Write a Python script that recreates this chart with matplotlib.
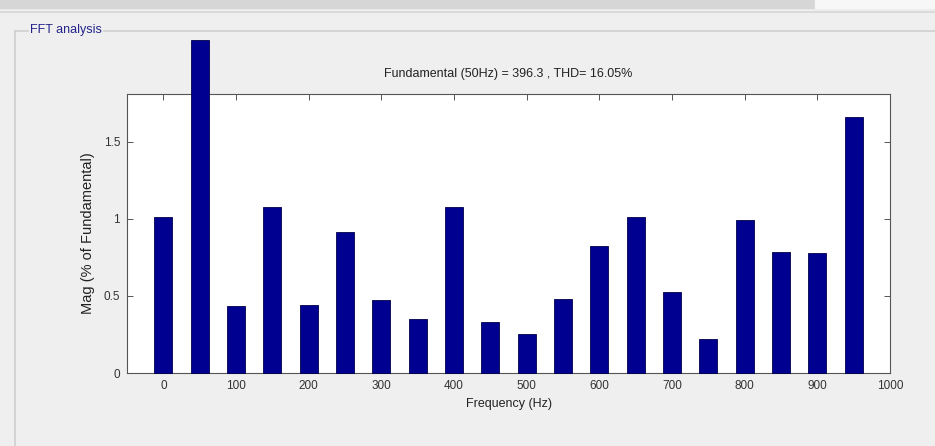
import matplotlib
matplotlib.use("Agg")
import matplotlib.pyplot as plt
from matplotlib.patches import Rectangle
from matplotlib.lines import Line2D

# harmonic spectrum, in % of the fundamental
freqs_hz = [0, 50, 100, 150, 200, 250, 300, 350, 400, 450,
            500, 550, 600, 650, 700, 750, 800, 850, 900, 950]
mag_pct = [1.01, 2.16, 0.435, 1.08, 0.44, 0.917, 0.474, 0.35, 1.08, 0.333,
           0.253, 0.48, 0.825, 1.01, 0.526, 0.22, 0.99, 0.788, 0.78, 1.66]
x_ticks = list(range(0, 1001, 100))
y_ticks = [0, 0.5, 1, 1.5]
y_tick_labels = ["0", "0.5", "1", "1.5"]
fundamental = 396.3
thd = 16.05

plt.rcParams["font.family"] = ["Liberation Sans", "DejaVu Sans"]

W, H = 935, 446
fig = plt.figure(figsize=(W / 100, H / 100), dpi=100, facecolor="#efefef")

# window chrome and group box drawn in pixel coordinates
bg = fig.add_axes([0, 0, 1, 1])
bg.set_xlim(0, W)
bg.set_ylim(H, 0)
bg.axis("off")
bg.add_patch(Rectangle((0, 0), W, 8, color="#d6d6d6", zorder=1))
bg.add_patch(Rectangle((815, 0), W - 815, 8, color="#f7f7f7", zorder=1))
bg.add_line(Line2D([0, W], [12, 12], color="#dadada", lw=1.5))
bg.add_line(Line2D([15, 28], [31, 31], color="#cfcfcf", lw=1.2))
bg.add_line(Line2D([104, W], [31, 31], color="#cfcfcf", lw=1.2))
bg.add_line(Line2D([15, 15], [31, H], color="#cfcfcf", lw=1.2))
bg.text(30, 30, "FFT analysis", color="#24248c", fontsize=9, va="center", ha="left")

ax = fig.add_axes([127 / W, 1 - 373 / H, 763 / W, 279 / H])
ax.set_facecolor("white")
ax.bar(freqs_hz, mag_pct, width=25, color="#000090", edgecolor="#00004a",
       linewidth=0.6, clip_on=False, zorder=3)
ax.set_xlim(-50, 1000)
ax.set_ylim(0, 1.81)
ax.set_xticks(x_ticks)
ax.set_yticks(y_ticks)
ax.set_yticklabels(y_tick_labels)
ax.tick_params(direction="in", top=True, right=True, length=4, width=0.7,
               colors="#555555", labelcolor="#333333", labelsize=8.5, pad=5)
for s in ax.spines.values():
    s.set_color("#555555")
    s.set_linewidth(0.8)

ax.set_title(f"Fundamental (50Hz) = {fundamental} , THD= {thd:.2f}%",
             fontsize=9, color="#222222", pad=12)
ax.set_xlabel("Frequency (Hz)", fontsize=9, color="#222222", labelpad=4)
ax.set_ylabel("Mag (% of Fundamental)", fontsize=10.5, color="#222222", labelpad=6)

fig.savefig("out.png", dpi=100, facecolor=fig.get_facecolor())
